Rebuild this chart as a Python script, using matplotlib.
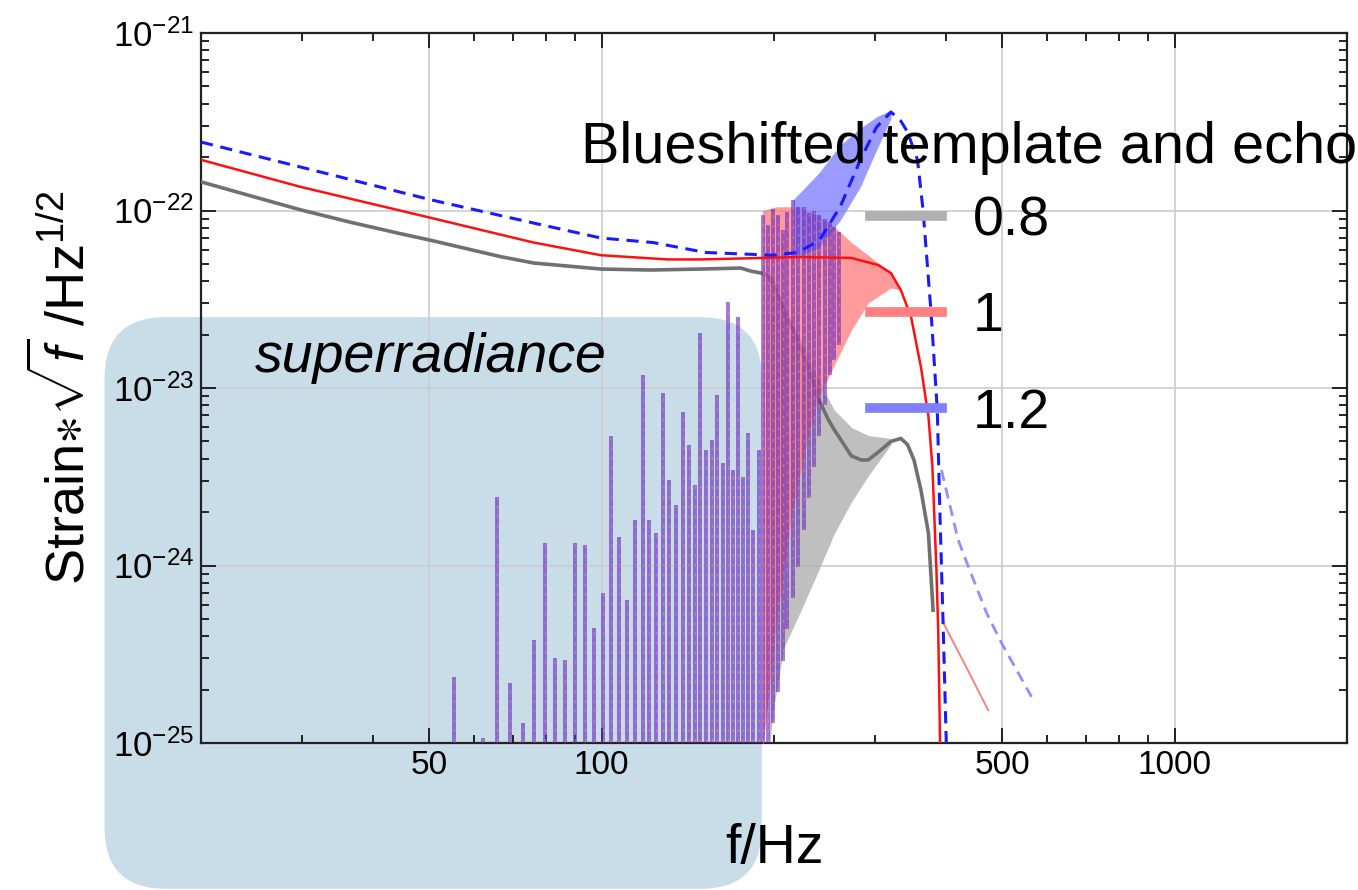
"""
Blueshifted template and echo spectra (log-log), with the superradiance region.
"""

import matplotlib
matplotlib.use("Agg")
import matplotlib.pyplot as plt
from matplotlib.lines import Line2D
from matplotlib.patches import FancyBboxPatch
from matplotlib.ticker import FixedLocator, FixedFormatter, NullFormatter

plt.rcParams['font.family'] = ['Liberation Sans', 'DejaVu Sans']
plt.rcParams['mathtext.fontset'] = 'custom'
plt.rcParams['mathtext.rm'] = 'Liberation Sans'
plt.rcParams['mathtext.it'] = 'Liberation Sans:italic'
plt.rcParams['mathtext.default'] = 'regular'

# ---- template 0.8 (gray) ----
f_08 = [20, 24.4, 29.8, 36.4, 44.6, 50.3, 66.6, 76.1, 99.7, 121.9,
        149, 175, 182, 190, 196, 202, 208, 216, 223, 232,
        239, 249, 255, 273, 284, 292, 304, 320, 333, 342,
        351, 361, 372, 379]
h_08 = [1.45e-22, 1.21e-22, 1.01e-22, 8.6e-23, 7.4e-23, 6.8e-23, 5.5e-23, 5.06e-23, 4.68e-23, 4.62e-23,
        4.68e-23, 4.74e-23, 4.56e-23, 4.44e-23, 4.28e-23, 3.56e-23, 2.71e-23, 2.12e-23, 1.66e-23, 1.18e-23,
        8.7e-24, 6.6e-24, 5.8e-24, 4.14e-24, 3.93e-24, 3.93e-24, 4.35e-24, 5.0e-24, 5.2e-24, 4.8e-24,
        3.93e-24, 2.66e-24, 1.52e-24, 5.6e-25]
band_f_08 = [196, 200, 208, 223, 239, 255, 273, 292, 320]
band_lo_08 = [9e-26, 1.62e-25, 3.43e-25, 5.6e-25, 9.3e-25, 1.52e-24, 2.28e-24, 3.19e-24, 4.8e-24]
band_hi_08 = [4.3e-23, 3.8e-23, 2.9e-23, 1.86e-23, 1.11e-23, 7.5e-24, 6.0e-24, 5.4e-24, 5.2e-24]

# ---- template 1 (red) ----
f_10 = [20, 29.8, 50.3, 76.1, 99.7, 130.5, 149, 223, 273, 304,
        320, 333, 347, 361, 372, 376, 378, 384, 387, 390]
h_10 = [1.93e-22, 1.36e-22, 9.1e-23, 6.6e-23, 5.6e-23, 5.3e-23, 5.3e-23, 5.47e-23, 5.4e-23, 4.93e-23,
        4.44e-23, 3.56e-23, 2.51e-23, 1.31e-23, 6.9e-24, 4.48e-24, 3.59e-24, 9.8e-25, 4.17e-25, 9e-26]
tail_f_10 = [395, 433, 473]
tail_h_10 = [4.74e-25, 2.68e-25, 1.53e-25]
band_f_10 = [191, 202, 214, 223, 229, 239, 255, 273, 292, 320, 333]
band_hi_10 = [1.0e-22, 1.05e-22, 1.05e-22, 1.05e-22, 1.0e-22, 9.3e-23, 8.1e-23, 6.6e-23, 5.6e-23, 4.44e-23, 3.56e-23]
band_lo_10 = [9e-26, 4.9e-25, 1.81e-24, 3.5e-24, 5.3e-24, 8.7e-24, 1.35e-23, 2.12e-23, 3.01e-23, 3.66e-23, 3.56e-23]

# ---- template 1.2 (blue, dashed) ----
f_12 = [20, 29.8, 50.3, 76.1, 99.7, 123, 152, 199, 220, 240,
        261, 283, 302, 320, 333, 342, 356, 364, 376, 385.5,
        389, 395, 400]
h_12 = [2.43e-22, 1.76e-22, 1.15e-22, 8.5e-23, 7.0e-23, 6.6e-23, 5.8e-23, 5.6e-23, 5.8e-23, 6.8e-23,
        1.05e-22, 1.93e-22, 2.95e-22, 3.59e-22, 3.19e-22, 2.77e-22, 1.93e-22, 1.01e-22, 2.65e-23, 7.5e-24,
        2.34e-24, 4.17e-25, 9e-26]
tail_f_12 = [392, 419, 437, 470, 499, 530, 563]
tail_h_12 = [3.45e-24, 1.4e-24, 9.8e-25, 5.4e-25, 3.66e-25, 2.58e-25, 1.82e-25]
band_f_12 = [216, 240, 261, 283, 302, 320]
band_lo_12 = [5.4e-23, 6.2e-23, 8.8e-23, 1.36e-22, 2.19e-22, 3.3e-22]
band_hi_12 = [1.15e-22, 1.64e-22, 2.34e-22, 2.91e-22, 3.37e-22, 3.68e-22]

# ---- echo harmonics (superradiance spikes) ----
spike_f = [55.2, 62.2, 65.6, 69.1, 72.8, 76.1, 79.6, 82.8, 86.2, 89.8,
           93.5, 96.9, 100.5, 103.8, 107.2, 110.7, 114.3, 118, 120.9, 124.4,
           127.9, 131, 134.8, 138.7, 142, 145.5, 148.5, 152, 155.8, 159,
           162.9, 166.2, 169.6, 173, 176.5, 180.1, 183.8, 188.3]
spike_top = [2.35e-25, 1.07e-25, 2.43e-24, 2.18e-25, 1.30e-25, 3.8e-25, 1.34e-24, 3.01e-25, 2.94e-25, 1.34e-24,
             1.30e-24, 4.45e-25, 7.0e-25, 5.4e-24, 1.45e-24, 6.4e-25, 1.81e-24, 1.18e-23, 1.81e-24, 1.52e-24,
             9.4e-24, 3.03e-24, 2.19e-24, 7.3e-24, 4.8e-24, 2.85e-24, 2.04e-23, 4.48e-24, 5.1e-24, 9.1e-24,
             3.78e-24, 3.05e-23, 3.45e-24, 2.51e-23, 3.15e-24, 5.6e-24, 1.58e-24, 4.48e-24]
dense_f = [191, 195, 199, 203, 207, 211, 216, 220, 226, 230, 235, 240, 245, 250, 255, 260]
dense_top = [9.4e-23, 8.3e-23, 1.02e-22, 9.4e-23, 7.8e-23, 9.8e-23, 1.15e-22, 1.05e-22,
             1.05e-22, 9.7e-23, 9.9e-23, 9.4e-23, 8.95e-23, 8.6e-23, 8.1e-23, 7.6e-23]
dense_bottom = [9e-26, 9e-26, 1.3e-25, 1.94e-25, 2.9e-25, 4.39e-25, 6.56e-25, 9.8e-25,
                1.58e-24, 2.4e-24, 3.59e-24, 5.37e-24, 8.0e-24, 1.18e-23, 1.44e-23, 1.75e-23]

legend_labels = ['0.8', '1', '1.2']
x_major = [50, 100, 500, 1000]
x_minor = [20, 30, 40, 60, 70, 80, 90, 200, 300, 400, 600, 700, 800, 900, 2000]
y_major = [1e-25, 1e-24, 1e-23, 1e-22, 1e-21]
y_labels = [r'$10^{-25}$', r'$10^{-24}$', r'$10^{-23}$', r'$10^{-22}$', r'$10^{-21}$']
y_minor = [m * d for d in [1e-25, 1e-24, 1e-23, 1e-22] for m in range(2, 10)]


def main():
    fig = plt.figure(figsize=(13.58, 8.90), dpi=100)
    fig.patch.set_facecolor('white')
    ax = fig.add_axes([201 / 1358, 147 / 890, 1146 / 1358, 710 / 890])
    ax.set_facecolor('none')

    # superradiance box behind the axes
    box = FancyBboxPatch((0.077 + 0.045, 0.002 + 0.068), 0.484 - 0.09, 0.641 - 0.136,
                         boxstyle="round,pad=0.045,rounding_size=0.045",
                         transform=fig.transFigure, facecolor='#c9dde8',
                         edgecolor='none', zorder=-5, mutation_aspect=1358 / 890)
    fig.patches.append(box)

    ax.set_xscale('log')
    ax.set_yscale('log')
    ax.set_xlim(20, 2000)
    ax.set_ylim(1e-25, 1e-21)

    # bands
    ax.fill_between(band_f_08, band_lo_08, band_hi_08, color='#b4b4b4', lw=0, alpha=0.85, zorder=2)
    ax.plot(f_08, h_08, color='#707070', lw=2.6, zorder=3)
    ax.fill_between(band_f_10, band_lo_10, band_hi_10, color='#ff7a7a', lw=0, alpha=0.75, zorder=4)
    ax.fill_between(band_f_12, band_lo_12, band_hi_12, color='#7a7aff', lw=0, alpha=0.75, zorder=4)

    # spikes
    for fs, lo, hi in [(spike_f, 9e-26, spike_top), (dense_f, dense_bottom, dense_top)]:
        ax.vlines(fs, lo, hi, color='#2a2aff', lw=2.8, alpha=0.55, zorder=5)
        ax.vlines(fs, lo, hi, color='#ff3030', lw=2.8, alpha=0.18, zorder=5)
        ax.vlines(fs, lo, hi, color='#ff9070', lw=1.0, alpha=0.55,
                  linestyles=(0, (2, 5)), zorder=6)

    ax.plot(f_10, h_10, color='#ff1010', lw=1.8, zorder=7)
    ax.plot(tail_f_10, tail_h_10, color='#ff8080', lw=1.4, zorder=7)
    ax.plot(f_12, h_12, color='#1a1aff', lw=2.2, ls=(0, (4, 2.5)), zorder=8)
    ax.plot(tail_f_12, tail_h_12, color='#9090ff', lw=2.0, ls=(0, (4, 2.5)), zorder=8)

    # axes style
    ax.xaxis.set_major_locator(FixedLocator(x_major))
    ax.xaxis.set_major_formatter(FixedFormatter([str(v) for v in x_major]))
    ax.xaxis.set_minor_locator(FixedLocator(x_minor))
    ax.xaxis.set_minor_formatter(NullFormatter())
    ax.yaxis.set_major_locator(FixedLocator(y_major))
    ax.yaxis.set_major_formatter(FixedFormatter(y_labels))
    ax.yaxis.set_minor_locator(FixedLocator(y_minor))
    ax.yaxis.set_minor_formatter(NullFormatter())
    ax.tick_params(which='both', direction='in', top=True, right=True,
                   color='#222222', width=1.4, labelsize=24, pad=5)
    ax.tick_params(axis='y', labelsize=25)
    ax.tick_params(which='major', length=11)
    ax.tick_params(which='minor', length=6)
    for sp in ax.spines.values():
        sp.set_linewidth(1.6)
        sp.set_color('#222222')
    ax.grid(True, which='major', color='#cccccc', lw=1.2, zorder=0)
    ax.set_axisbelow(True)

    ax.set_xlabel('f/Hz', fontsize=40, labelpad=30)
    ax.set_ylabel(r'Strain$\ast\sqrt{\mathit{f}}$ /Hz$^{1/2}$', fontsize=39, labelpad=12)

    fig.text(255 / 1358, 0.598, 'superradiance', fontsize=40,
             style='italic', ha='left', va='center')

    # legend: title drawn separately so it can sit close above the entries
    fig.text(969 / 1358, (890 - 163) / 890, 'Blueshifted template and echo',
             fontsize=41.5, ha='center', va='baseline', zorder=10)
    handles = [Line2D([], [], color='#b0b0b0', lw=7),
               Line2D([], [], color='#ff8080', lw=7),
               Line2D([], [], color='#8080ff', lw=7)]
    leg = ax.legend(handles, legend_labels,
                    loc='upper left', bbox_to_anchor=(870 / 1358, (890 - 195) / 890),
                    bbox_transform=fig.transFigure, frameon=False, fontsize=40,
                    handlelength=1.3, handletextpad=0.55,
                    labelspacing=0.8, borderpad=0, borderaxespad=0)
    leg.set_zorder(10)

    fig.savefig('out.png', dpi=100)


if __name__ == "__main__":
    main()
